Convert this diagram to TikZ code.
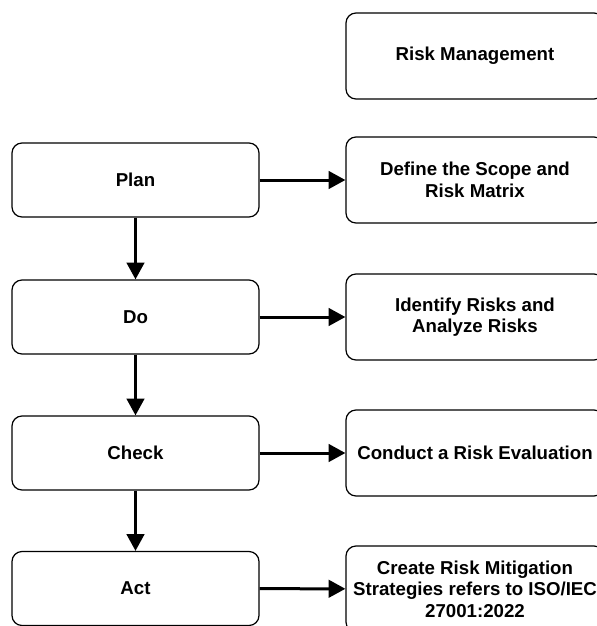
\documentclass[tikz,border=0pt]{standalone}
\usepackage{fontspec}
\setmainfont{Liberation Sans}
\usetikzlibrary{arrows.meta}

\begin{document}
\begin{tikzpicture}[x=0.75pt,y=-0.75pt,
  every node/.style={font=\fontsize{14pt}{16.2pt}\selectfont\bfseries, align=center},
  phase/.style={draw, rounded corners=7.5pt, line width=0.9pt, minimum width=185.25pt, minimum height=55.5pt},
  task/.style={draw, rounded corners=7.5pt, line width=0.9pt, minimum width=193.5pt, minimum height=64.5pt},
  flow/.style={line width=2.25pt, -{Triangle[length=12.5pt, width=13pt]}}]
\useasboundingbox (0,0) rectangle (597,626);
\clip (0,0) rectangle (597,626);
% PDCA phases
\node[phase] (plan) at (135.5,180) {Plan};
\node[phase] (do) at (135.5,317) {Do};
\node[phase] (check) at (135.5,453) {Check};
\node[phase] (act) at (135.5,588.5) {Act};
% risk management steps
\node[task] (riskmgmt) at (475,56) {Risk Management};
\node[task] (scope) at (475,180) {Define the Scope and\\Risk Matrix};
\node[task] (identify) at (475,317) {Identify Risks and\\Analyze Risks};
\node[task] (evaluate) at (475,453) {Conduct a Risk Evaluation};
\node[task] (mitigate) at (475,589) {Create Risk Mitigation\\Strategies refers to ISO/IEC\\27001:2022};
% connectors
\draw[flow] (plan) -- (do);
\draw[flow] (do) -- (check);
\draw[flow] (check) -- (act);
\draw[flow] (plan) -- (scope);
\draw[flow] (do) -- (identify);
\draw[flow] (check) -- (evaluate);
\draw[flow] (act) -- (mitigate);
\end{tikzpicture}
\end{document}
